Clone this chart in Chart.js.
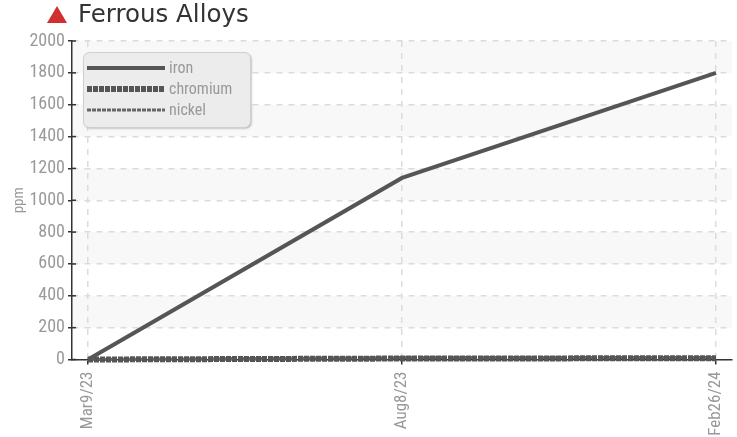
<!DOCTYPE html>
<html lang="en">

<head>
  <meta name="viewport" content="width=device-width, initial-scale=1.0" />
  <title>Ferrous Alloys</title>
  <script src="https://cdn.jsdelivr.net/npm/chart.js"></script>
  <style>
    html, body { margin: 0; padding: 0; background: #fff; overflow: hidden; }
    #wrap { position: relative; width: 737px; height: 437px; }
    #heading { position: absolute; left: 47px; top: -1px; font: 24.5px "DejaVu Sans", sans-serif; color: #333; line-height: 29px; white-space: nowrap; }
    #heading i { display: inline-block; width: 0; height: 0; border-left: 10px solid transparent; border-right: 10px solid transparent; border-bottom: 17px solid #d03030; margin-right: 11px; vertical-align: -1px; }
    canvas { position: absolute; left: 0; top: 0; }
  </style>
</head>

<body>
  <div id="wrap">
    <canvas id="alloyChart" width="737" height="437"></canvas>
    <div id="heading"><i></i>Ferrous Alloys</div>
  </div>

  <script>
    const dates = ['Mar9/23', 'Aug8/23', 'Feb26/24'];
    const iron = [0, 1140, 1800];
    const chromium = [0, 6, 8];
    const nickel = [0, 12, 12];
    const yTicks = [0, 200, 400, 600, 800, 1000, 1200, 1400, 1600, 1800, 2000];

    const labelFont = '"Roboto Condensed", Roboto, sans-serif';

    const toPoints = values => values.map((v, i) => ({ x: i, y: v }));

    // alternate bands behind the grid
    const bands = {
      id: 'bands',
      beforeDraw(chart) {
        const { ctx, chartArea, scales } = chart;
        ctx.save();
        ctx.fillStyle = '#f8f8f8';
        for (let i = yTicks.length - 1; i > 0; i -= 2) {
          const top = scales.y.getPixelForValue(yTicks[i]);
          const bottom = scales.y.getPixelForValue(yTicks[i - 1]);
          ctx.fillRect(chartArea.left, top, chartArea.width, bottom - top);
        }
        ctx.restore();
      }
    };

    // y tick marks cross the axis, the library only draws the outer half
    const innerTicks = {
      id: 'innerTicks',
      afterDatasetsDraw(chart) {
        const { ctx, chartArea, scales } = chart;
        ctx.save();
        ctx.strokeStyle = '#333';
        ctx.lineWidth = 1.5;
        yTicks.forEach(v => {
          const y = scales.y.getPixelForValue(v);
          ctx.beginPath();
          ctx.moveTo(chartArea.left, y);
          ctx.lineTo(chartArea.left + 4, y);
          ctx.stroke();
        });
        ctx.restore();
      }
    };

    // rounded legend box sitting on top of the plot
    const legendBox = {
      id: 'legendBox',
      afterDraw(chart) {
        const { ctx } = chart;
        ctx.save();
        ctx.beginPath();
        ctx.roundRect(83.5, 52.5, 167, 75, 6);
        ctx.shadowColor = 'rgba(0,0,0,0.3)';
        ctx.shadowBlur = 2;
        ctx.shadowOffsetX = 1;
        ctx.shadowOffsetY = 1;
        ctx.fillStyle = '#ececec';
        ctx.fill();
        ctx.shadowColor = 'transparent';
        ctx.strokeStyle = '#cfcfcf';
        ctx.stroke();

        ctx.font = '16px ' + labelFont;
        ctx.textBaseline = 'middle';
        chart.data.datasets.forEach((ds, i) => {
          const y = 68 + i * 21;
          ctx.beginPath();
          ctx.setLineDash(ds.borderDash || []);
          ctx.lineWidth = ds.borderWidth;
          ctx.strokeStyle = ds.borderColor;
          ctx.moveTo(87, y);
          ctx.lineTo(165, y);
          ctx.stroke();
          ctx.setLineDash([]);
          ctx.fillStyle = '#999';
          ctx.fillText(ds.label, 169, y + 1);
        });
        ctx.restore();
      }
    };

    new Chart(document.getElementById('alloyChart'), {
      type: 'line',
      data: {
        datasets: [
          { label: 'iron', data: toPoints(iron), borderColor: '#555', borderWidth: 4, clip: false },
          { label: 'chromium', data: toPoints(chromium), borderColor: '#555', borderWidth: 6, borderDash: [5, 1], clip: false },
          { label: 'nickel', data: toPoints(nickel), borderColor: '#666', borderWidth: 3, borderDash: [4, 1], clip: false }
        ]
      },
      options: {
        responsive: false,
        animation: false,
        layout: { padding: { top: 41, right: 5, left: 0, bottom: 0 } },
        elements: { point: { radius: 0 }, line: { tension: 0 } },
        plugins: { legend: { display: false }, tooltip: { enabled: false } },
        scales: {
          x: {
            type: 'linear',
            min: -0.051,
            max: 2.051,
            afterBuildTicks(axis) { axis.ticks = dates.map((_, i) => ({ value: i })); },
            afterFit(axis) { axis.height = 77.5; axis.paddingRight = 0; axis.paddingLeft = 0; },
            border: { color: '#333', width: 1.5, dash: [6, 6] },
            grid: { color: '#dcdcdc', lineWidth: 1.5, tickColor: '#333', tickLength: 5 },
            ticks: {
              autoSkip: false,
              maxRotation: 90,
              minRotation: 90,
              padding: 7,
              color: '#999',
              font: { family: labelFont, size: 17 },
              callback: value => dates[value]
            }
          },
          y: {
            min: 0,
            max: 2000,
            afterBuildTicks(axis) { axis.ticks = yTicks.map(v => ({ value: v })); },
            afterFit(axis) { axis.width = 72; },
            border: { color: '#333', width: 1.5, dash: [6, 6] },
            grid: { color: '#dcdcdc', lineWidth: 1.5, tickColor: '#333', tickLength: 4 },
            title: { display: true, text: 'ppm', color: '#999', font: { family: labelFont, size: 15 }, padding: { top: 10, bottom: 0 } },
            ticks: { padding: 3, color: '#999', font: { family: labelFont, size: 18 }, callback: value => String(value) }
          }
        }
      },
      plugins: [bands, innerTicks, legendBox]
    });
  </script>
</body>

</html>
